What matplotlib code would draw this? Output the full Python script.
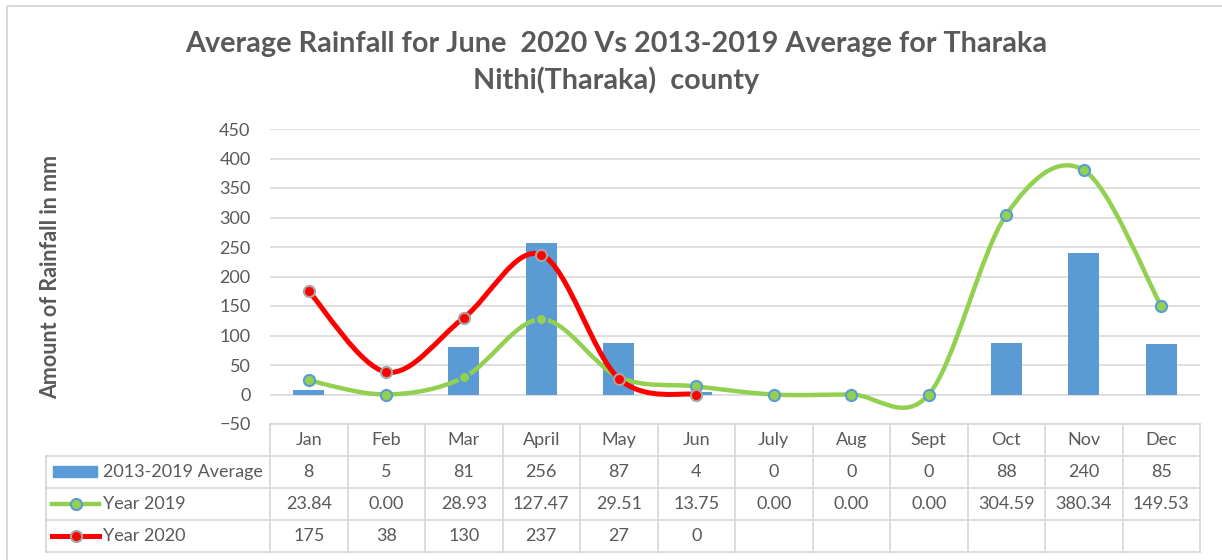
import numpy as np
import matplotlib.pyplot as plt
from matplotlib.path import Path
from matplotlib.patches import PathPatch, Rectangle
from matplotlib.lines import Line2D
from matplotlib.transforms import blended_transform_factory

plt.rcParams['font.family'] = ['Lato', 'DejaVu Sans']

months = ['Jan', 'Feb', 'Mar', 'April', 'May', 'Jun', 'July', 'Aug', 'Sept', 'Oct', 'Nov', 'Dec']
avg_2013_2019 = [8, 5, 81, 256, 87, 4, 0, 0, 0, 88, 240, 85]
year_2019 = [23.84, 0.00, 28.93, 127.47, 29.51, 13.75, 0.00, 0.00, 0.00, 304.59, 380.34, 149.53]
year_2020 = [175, 38, 130, 237, 27, 0]
yticks = [-50, 0, 50, 100, 150, 200, 250, 300, 350, 400, 450]

TEXT = '#595959'
GRID = '#D9D9D9'
BLUE = '#5B9BD5'
GREEN = '#92D050'
RED = '#FF0000'
W, H = 1222, 560


def smooth_path(xs, ys):
    # excel style smoothed line (catmull-rom as bezier)
    pts = np.column_stack([xs, ys]).astype(float)
    verts = [pts[0]]
    codes = [Path.MOVETO]
    n = len(pts)
    for i in range(n - 1):
        p0 = pts[i - 1] if i > 0 else pts[i]
        p1 = pts[i]
        p2 = pts[i + 1]
        p3 = pts[i + 2] if i + 2 < n else pts[i + 1]
        verts += [p1 + (p2 - p0) / 6, p2 - (p3 - p1) / 6, p2]
        codes += [Path.CURVE4] * 3
    return Path(verts, codes)


fig = plt.figure(figsize=(W / 100, H / 100), dpi=100)

# overlay in pixel coords for title, table, border
ov = fig.add_axes([0, 0, 1, 1])
ov.set_xlim(0, W)
ov.set_ylim(H, 0)
ov.axis('off')

ax = fig.add_axes([270 / W, (H - 424) / H, 930 / W, 295 / H])
ax.set_xlim(-0.5, len(months) - 0.5)
ax.set_ylim(-50, 450)
ax.set_yticks(yticks)
ax.set_xticks([])
ax.tick_params(axis='y', length=0, labelsize=13, labelcolor=TEXT, pad=14)
for s in ax.spines.values():
    s.set_visible(False)
ax.grid(axis='y', color=GRID, lw=1.2, zorder=0)
ax.set_axisbelow(True)
ax.patch.set_alpha(0)

x = np.arange(len(months))
ax.bar(x, avg_2013_2019, width=0.4, color=BLUE, zorder=2)

ax.add_patch(PathPatch(smooth_path(x, year_2019), fill=False, ec=GREEN, lw=3.2,
                       capstyle='round', zorder=3))
ax.plot(x, year_2019, ls='none', marker='o', ms=8, mfc=GREEN, mec=BLUE, mew=1.5, zorder=4)

x20 = np.arange(len(year_2020))
ax.add_patch(PathPatch(smooth_path(x20, year_2020), fill=False, ec=RED, lw=3.6,
                       capstyle='round', zorder=5))
ax.plot(x20, year_2020, ls='none', marker='o', ms=8, mfc=RED, mec='#A5A5A5', mew=1.5, zorder=6)

ax.set_ylabel('Amount of Rainfall in mm', fontsize=15.5, fontweight='bold', color=TEXT,
              va='center')
ax.yaxis.set_label_coords((51 - 270) / 930, (424 - 277) / 295)

# title
ov.text(616, 44, 'Average Rainfall for June  2020 Vs 2013-2019 Average for Tharaka',
        ha='center', va='center', fontsize=20.7, fontweight='bold', color=TEXT)
ov.text(616, 80, 'Nithi(Tharaka)  county', ha='center', va='center',
        fontsize=20.7, fontweight='bold', color=TEXT)

# outer chart border
ov.add_patch(Rectangle((7, 6), W, H, fill=False, ec=GRID, lw=1.5))

# data table
tr = blended_transform_factory(ax.transData, ov.transData)
rows_y = [424, 456, 488, 520, 552]
lc = dict(color=GRID, lw=1.3, clip_on=False)
ov.plot([270, 1200], [rows_y[0]] * 2, **lc)
for yy in rows_y[1:]:
    ov.plot([46, 1200], [yy, yy], **lc)
ov.plot([46, 46], [rows_y[1], rows_y[-1]], **lc)
for k in range(len(months) + 1):
    ov.plot([k - 0.5, k - 0.5], [rows_y[0], rows_y[-1]], transform=tr, **lc)

tk = dict(ha='center', va='center', fontsize=13, color=TEXT)
for i, m in enumerate(months):
    ov.text(i, 440, m, transform=tr, **tk)
    ov.text(i, 472, f'{avg_2013_2019[i]:d}', transform=tr, **tk)
    ov.text(i, 504, f'{year_2019[i]:.2f}', transform=tr, **tk)
for i, v in enumerate(year_2020):
    ov.text(i, 536, f'{v:d}', transform=tr, **tk)

# legend keys
ov.add_patch(Rectangle((53, 466), 44, 11, color=BLUE))
ov.add_line(Line2D([52, 99], [504, 504], color=GREEN, lw=3.2))
ov.plot([75.5], [504], marker='o', ms=8, mfc=GREEN, mec=BLUE, mew=1.5)
ov.add_line(Line2D([52, 99], [536, 536], color=RED, lw=3.6))
ov.plot([75.5], [536], marker='o', ms=8, mfc=RED, mec='#A5A5A5', mew=1.5)
lk = dict(ha='left', va='center', fontsize=13, color=TEXT)
ov.text(103, 472, '2013-2019 Average', **lk)
ov.text(103, 504, 'Year 2019', **lk)
ov.text(103, 536, 'Year 2020', **lk)

fig.savefig('out.png', dpi=100, facecolor='white')
